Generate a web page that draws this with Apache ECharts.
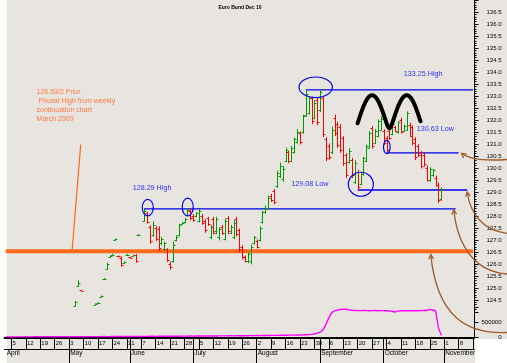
<!DOCTYPE html>
<html><head><meta charset="utf-8">
<script src="https://cdn.jsdelivr.net/npm/echarts@6/dist/echarts.min.js"></script>
<style>html,body{margin:0;padding:0;background:#fff}#c{width:507px;height:363px}</style>
</head><body><div id="c"></div>
<script>
// ---- categories: weekday trading days from 1 Apr 2010 ----
const days = [];
for (let d = new Date(Date.UTC(2010, 3, 1)); days.length < 163; d.setUTCDate(d.getUTCDate() + 1)) {
  const wd = d.getUTCDay();
  if (wd !== 0 && wd !== 6) days.push(d.toISOString().slice(0, 10));
}
const monthNames = ['January','February','March','April','May','June','July','August','September','October','November','December'];

// ---- OHLC bars: [trading-day index, open, high, low, close] ----
const ohlc = [
 [24,124.26,124.44,124.24,124.42],[25,125.08,125.29,125.07,125.22],[26,124.9,124.9,124.9,124.88],
 [31,124.3,124.33,124.3,124.32],[32,124.35,124.38,124.35,124.37],[33,124.62,124.66,124.62,124.65],
 [34,125.36,125.39,125.36,125.38],[35,125.8,126.03,125.78,125.98],[36,126.29,126.32,126.29,126.31],
 [37,126.37,126.4,126.37,126.39],[38,127.0,127.04,127.0,127.03],[39,126.33,126.33,126.3,126.31],
 [40,126.25,126.28,125.9,125.95],[41,126.03,126.07,126.03,126.06],[42,126.37,126.4,126.37,126.39],
 [43,126.28,126.28,126.25,126.26],[44,126.33,126.36,126.33,126.35],[45,126.37,126.39,126.07,126.12],
 [46,127.19,127.22,127.19,127.21],[48,127.8,128.29,127.78,128.2],[49,128.1,128.14,127.7,127.75],
 [50,127.55,127.59,126.85,126.95],[51,127.2,127.75,127.15,127.6],[52,127.5,127.55,126.97,127.05],
 [53,127.45,127.55,126.56,126.65],[54,126.85,127.11,126.8,127.05],[55,126.6,126.91,126.56,126.85],
 [56,126.6,126.63,126.1,126.15],[57,126.0,126.07,125.77,125.85],[58,126.1,126.91,126.07,126.8],
 [59,127.0,127.17,126.96,127.12],[60,127.2,127.65,127.17,127.6],[61,127.67,127.72,127.67,127.7],
 [62,127.74,127.89,127.72,127.85],[63,128.02,128.3,128.0,128.25],[64,128.22,128.27,127.83,127.9],
 [65,128.0,128.06,127.78,127.82],[66,127.98,128.13,127.97,128.1],[67,127.8,128.27,127.75,128.2],
 [68,128.0,128.06,127.65,127.7],[69,127.8,127.84,127.32,127.4],[70,127.9,127.94,127.6,127.65],
 [71,127.1,127.6,127.05,127.55],[72,127.85,127.94,127.26,127.3],[73,127.35,127.94,127.26,127.85],
 [74,127.1,127.5,127.0,127.45],[75,127.55,127.6,127.23,127.3],[76,127.05,127.87,127.0,127.8],
 [77,127.9,127.97,127.26,127.35],[78,127.3,127.6,127.27,127.55],[79,127.1,127.8,127.05,127.7],
 [80,127.85,127.94,127.17,127.25],[81,127.4,127.45,126.5,126.6],[82,126.7,126.76,126.21,126.3],
 [83,126.3,126.33,126.08,126.12],[84,126.1,126.47,126.06,126.4],[85,126.1,126.79,126.0,126.7],
 [86,126.88,127.15,126.83,127.1],[87,126.95,127.0,126.66,126.7],[88,127.0,127.55,126.95,127.5],
 [89,127.75,128.2,127.7,128.15],[90,128.15,128.41,128.12,128.35],[91,128.35,128.83,128.29,128.75],
 [92,128.85,128.9,128.6,128.65],[93,129.05,129.1,128.5,128.6],[94,129.25,129.86,129.2,129.8],
 [95,129.65,130.2,129.6,130.1],[96,129.55,130.05,129.45,129.95],[97,130.3,130.83,130.27,130.75],
 [98,130.65,130.69,130.21,130.3],[99,130.3,130.9,130.27,130.85],[100,130.65,131.24,130.62,131.2],
 [101,131.1,131.59,131.04,131.5],[102,131.45,131.5,131.0,131.1],[103,131.5,132.2,131.45,132.15],
 [104,132.2,133.25,132.15,133.1],[105,132.3,132.95,132.25,132.9],[106,132.9,132.95,131.85,131.95],
 [107,132.1,132.8,132.05,132.7],[108,132.85,132.9,131.8,131.9],[109,132.4,133.25,132.35,133.15],
 [110,132.9,132.95,131.3,131.4],[111,131.2,131.25,130.3,130.4],[112,130.9,131.0,130.35,130.45],
 [113,130.65,131.7,130.6,131.6],[114,132.1,132.2,131.35,131.45],[115,131.85,131.9,130.85,130.95],
 [116,131.7,131.8,130.65,130.75],[117,131.25,131.3,130.1,130.2],[118,130.55,130.6,129.6,129.7],
 [119,130.25,130.8,130.2,130.7],[120,130.35,130.4,129.6,129.7],[121,129.4,130.3,129.35,130.2],
 [122,129.85,129.9,129.08,129.2],[123,129.35,129.8,129.3,129.75],[124,129.75,130.45,129.7,130.4],
 [125,130.3,130.95,130.27,130.9],[126,130.85,131.52,130.83,131.45],[127,131.65,131.73,130.83,130.9],
 [128,131.05,131.6,131.03,131.55],[129,131.35,132.0,131.3,131.95],[130,131.6,132.13,131.58,132.05],
 [131,131.55,131.59,130.97,131.05],[132,131.25,131.31,130.63,130.75],[133,131.55,131.6,131.19,131.25],
 [134,131.4,131.93,131.38,131.85],[135,131.7,131.73,131.52,131.55],[136,131.5,131.93,131.45,131.9],
 [137,132.0,132.07,131.45,131.5],[138,131.55,131.79,131.52,131.75],[139,131.6,132.34,131.58,132.3],
 [140,131.8,131.86,131.31,131.35],[141,131.7,131.75,130.97,131.05],[142,131.2,131.26,130.35,130.45],
 [143,130.9,130.97,130.48,130.55],[144,130.65,130.69,130.0,130.1],[145,130.55,130.62,130.07,130.15],
 [146,130.0,130.07,129.45,129.5],[147,129.5,130.0,129.45,129.95],[148,129.7,129.93,129.65,129.9],
 [149,129.6,129.65,129.24,129.3],[150,129.3,129.37,128.55,128.65],[151,128.7,129.17,128.65,129.1]
];

// ---- lower panel (magenta) values, one per trading day from index 0 ----
const volume = [
 3000,2500,2000,4000,3500,5000,4000,6000,5500,4500,6000,7000,5000,6500,8000,7500,6000,7000,8500,9000,7000,8000,9500,10000,
 11000,9000,12000,10000,9500,11000,12500,13000,12000,14000,15000,13500,14000,16000,15000,17000,16500,15000,18000,17500,19000,18000,20000,21000,
 22000,20000,23000,24000,22000,25000,24000,26000,25000,27000,26000,28000,27000,29000,30000,28000,31000,30000,32000,31000,33000,34000,32000,35000,
 36000,35000,37000,38000,36000,39000,40000,38000,41000,42000,40000,43000,44000,45000,46000,48000,47000,50000,52000,51000,54000,55000,53000,57000,
 58000,60000,62000,61000,64000,66000,68000,70000,75000,80000,88000,100000,
 130000,160000,240000,420000,640000,810000,870000,895000,915000,930000,925000,905000,
 890000,885000,880000,878000,882000,880000,876000,879000,881000,877000,880000,878000,875000,870000,
 850000,835000,862000,873000,876000,874000,878000,877000,880000,876000,879000,881000,885000,920000,900000,875000,300000,60000
];

// ---- marked levels ----
const levelNames = ['133.25 High', '130.63 Low', '129.08 Low', '128.29 High', '126.53 prior pivot'];
const levelValues = [133.25, 130.63, 129.08, 128.29, 126.53];
const levelFrom = [104, 132, 122, 48, 0];
const levelTo = [162, 157, 160, 156, 162];
const pivotTrend = [[23, 126.53], [26, 130.97]];

const BLUE = '#0000ee', ORANGE = '#ff6a1a', BROWN = '#a05a2c';
const FONT = 'Liberation Sans, Arial, sans-serif';

const chart = echarts.init(document.getElementById('c'), null, {renderer: 'canvas'});
const isMonday = i => new Date(days[i] + 'T00:00:00Z').getUTCDay() === 1;
const isMonthStart = i => i > 0 && days[i].slice(5, 7) !== days[i - 1].slice(5, 7);

const GL = 4.26, GR = 32.5;
const levelSeries = levelValues.map((v, k) => ({
  type: 'line', name: levelNames[k], xAxisIndex: 0, yAxisIndex: 0, silent: true, symbol: 'none',
  data: [[levelFrom[k], v], [levelTo[k], v]],
  lineStyle: k === 4 ? {color: ORANGE, width: 4} : {color: BLUE, width: 1.3},
  z: k === 4 ? 1 : 3
}));

const option = {
  animation: false,
  backgroundColor: '#ffffff',
  textStyle: {fontFamily: FONT},
  grid: [
    {left: GL, right: GR, top: -2.75, height: 314.6},
    {left: GL, right: GR, top: 306, height: 31}
  ],
  xAxis: [
    {gridIndex: 0, type: 'category', data: days, show: false},
    {gridIndex: 1, type: 'category', data: days, position: 'top',
      axisLine: {show: true, lineStyle: {color: '#000', width: 1}}, axisTick: {show: false}, axisLabel: {show: false}},
    {gridIndex: 1, type: 'category', data: days, position: 'bottom', offset: 1.7,
      axisLine: {show: true, lineStyle: {color: '#000', width: 1}},
      axisTick: {show: true, alignWithLabel: true, length: 10.5, lineStyle: {color: '#000'},
        interval: (i) => (isMonday(i) || isMonthStart(i))},
      axisLabel: {show: true, interval: (i) => isMonday(i) && i <= 157, align: 'left', margin: 1.5,
        fontSize: 6, color: '#000', padding: [0, 0, 0, 1],
        formatter: (v) => String(Number(v.slice(8, 10)))}},
    {gridIndex: 1, type: 'category', data: days, position: 'bottom', offset: 12,
      axisLine: {show: true, lineStyle: {color: '#000', width: 1}},
      axisTick: {show: true, alignWithLabel: true, length: 14, lineStyle: {color: '#000'},
        interval: (i) => isMonthStart(i)},
      axisLabel: {show: true, interval: (i) => i === 0 || isMonthStart(i), align: 'left', margin: 1,
        fontSize: 6.5, color: '#000', padding: [0, 0, 0, 1],
        formatter: (v) => monthNames[Number(v.slice(5, 7)) - 1]}}
  ],
  yAxis: [
    {gridIndex: 0, type: 'value', position: 'right', min: 124, max: 137, interval: 0.5,
      axisLine: {show: true, lineStyle: {color: '#000'}},
      axisTick: {show: true, length: 4, lineStyle: {color: '#000'}},
      minorTick: {show: true, splitNumber: 5, length: 2, lineStyle: {color: '#000'}},
      splitLine: {show: false},
      axisLabel: {showMinLabel: false, showMaxLabel: false, fontSize: 6, color: '#000', align: 'right', margin: 27,
        formatter: (v) => v.toFixed(1)}},
    {gridIndex: 1, type: 'value', position: 'right', min: 0, max: 1033333, interval: 500000,
      axisLine: {show: true, lineStyle: {color: '#000'}},
      axisTick: {show: true, length: 4, lineStyle: {color: '#000'}},
      splitLine: {show: false},
      axisLabel: {fontSize: 6, color: '#000', align: 'right', margin: 27, showMaxLabel: false,
        formatter: (v) => (v === 0 || v === 500000) ? String(v) : ''}}
  ],
  series: [
    ...levelSeries,
    {type: 'line', name: 'pivot trend', xAxisIndex: 0, yAxisIndex: 0, silent: true, symbol: 'none',
      data: pivotTrend, lineStyle: {color: ORANGE, width: 1.2}},
    {type: 'custom', name: 'Euro Bund Dec 10', xAxisIndex: 0, yAxisIndex: 0, data: ohlc,
      encode: {x: 0, y: [1, 2, 3, 4]}, z: 4,
      renderItem: (params, api) => {
        const i = api.value(0), o = api.value(1), h = api.value(2), l = api.value(3), c = api.value(4);
        const ph = api.coord([i, h]), pl = api.coord([i, l]), po = api.coord([i, o]), pc = api.coord([i, c]);
        const col = c >= o ? '#009a00' : '#ff0000';
        const x = Math.round(ph[0]) + 0.5;
        const st = {stroke: col, lineWidth: 1};
        return {type: 'group', children: [
          {type: 'line', shape: {x1: x, y1: ph[1] - 0.5, x2: x, y2: pl[1] + 0.5}, style: st},
          {type: 'line', shape: {x1: x - 2, y1: Math.round(po[1]) + 0.5, x2: x, y2: Math.round(po[1]) + 0.5}, style: st},
          {type: 'line', shape: {x1: x, y1: Math.round(pc[1]) + 0.5, x2: x + 2, y2: Math.round(pc[1]) + 0.5}, style: st}
        ]};
      }},
    {type: 'line', name: 'volume', xAxisIndex: 2, yAxisIndex: 1, data: volume, symbol: 'none', silent: true,
      lineStyle: {color: '#ff00ff', width: 1.4}}
  ]
};
chart.setOption(option);

// ---- annotations anchored to data coordinates ----
function pt(d, p) {
  const d0 = Math.floor(d), f = d - d0;
  const a = chart.convertToPixel({gridIndex: 0}, [d0, p]);
  const b = chart.convertToPixel({gridIndex: 0}, [d0 + 1, p]);
  return [a[0] + f * (b[0] - a[0]), a[1]];
}
function txt(anchor, text, color, size, vAlign, lineHeight) {
  const p = pt(anchor[0], anchor[1]);
  const style = {text, fill: color, font: size + 'px ' + FONT, textAlign: 'left', textVerticalAlign: vAlign || 'middle'};
  if (lineHeight) style.lineHeight = lineHeight;
  return {type: 'text', x: p[0], y: p[1], z: 80, silent: true, style};
}
function ell(anchor, rx, ry) {
  const p = pt(anchor[0], anchor[1]);
  return {type: 'ellipse', z: 50, silent: true, shape: {cx: p[0], cy: p[1], rx, ry},
    style: {stroke: BLUE, fill: null, lineWidth: 1.2}};
}
function arrow(p0, c1, c2, p3) {
  const dx = p3[0] - c2[0], dy = p3[1] - c2[1], L = Math.hypot(dx, dy);
  const ux = dx / L, uy = dy / L, s = 5, a = 0.5, ca = Math.cos(a), sa = Math.sin(a);
  const h1 = [p3[0] - s * (ux * ca - uy * sa), p3[1] - s * (uy * ca + ux * sa)];
  const h2 = [p3[0] - s * (ux * ca + uy * sa), p3[1] - s * (uy * ca - ux * sa)];
  const st = {stroke: BROWN, fill: null, lineWidth: 1.3};
  return [
    {type: 'bezierCurve', z: 60, silent: true, shape: {x1: p0[0], y1: p0[1], cpx1: c1[0], cpy1: c1[1], cpx2: c2[0], cpy2: c2[1], x2: p3[0], y2: p3[1]}, style: st},
    {type: 'polyline', z: 60, silent: true, shape: {points: [h1, p3, h2]}, style: st}
  ];
}
const add = (p, dx, dy) => [p[0] + dx, p[1] + dy];

// M (double top) sketch: two arches meeting at a trough
const tr = pt(133, 131.65), pk = pt(139, 133.03);
const half = pk[0] - tr[0], amp = tr[1] - pk[1];
const mPts = [];
const k = 0.18, norm = Math.sqrt(1 + k * k) - k;
for (let x = tr[0] - 1.84 * half; x <= tr[0] + 1.8 * half + 0.01; x += 0.5) {
  const s = Math.abs(Math.sin(Math.PI * (x - tr[0]) / (2 * half)));
  const sr = (Math.sqrt(s * s + k * k) - k) / norm;
  mPts.push([x, tr[1] - amp * sr]);
}

const graphics = [
  {type: 'rect', z: -100, silent: true, shape: {x: 7, y: 0, width: 500, height: 339}, style: {fill: '#e8e4e0'}},
  {type: 'rect', z: -100, silent: true, shape: {x: 7, y: 339, width: 468, height: 24}, style: {fill: '#e8e4e0'}},
  {type: 'rect', z: 100, silent: true, shape: {x: 475, y: 339.5, width: 32, height: 24}, style: {fill: '#ffffff'}},
  {type: 'text', x: 240, y: 8, z: 80, silent: true,
    style: {text: 'Euro Bund Dec 10', fill: '#000', font: 'bold 5px ' + FONT, textAlign: 'center', textVerticalAlign: 'middle'}},
  {type: 'polyline', z: 55, silent: true, shape: {points: mPts},
    style: {stroke: '#000', fill: null, lineWidth: 4, lineCap: 'round', lineJoin: 'round'}},
  txt([138, 133.9], '133.25 High', '#3030ff', 7.2),
  txt([142.5, 131.62], '130.63 Low', '#3030ff', 7.2),
  txt([99, 129.31], '129.08 Low', '#3030ff', 7.2),
  txt([44, 129.17], '128.29 High', '#3030ff', 7.2),
  txt([10.7, 133.36], '126.53/2 Prior\n Pivotal High from weekly\ncontinuation chart\nMarch 2009', '#ff7a40', 7, 'top', 9.1),
  ell([49.25, 128.345], 5.5, 8.3),
  ell([63.1, 128.37], 5.5, 8.8),
  ell([107.45, 133.36], 16.7, 10.3),
  ell([123.1, 129.32], 12.5, 12),
  ell([132.1, 130.87], 3.3, 6.7),
  ...arrow([507, 159.5], [485, 161], [470, 160], add(pt(157, 130.63), 3, 0.5)),
  ...arrow([507, 233.3], [484, 231], [470, 214], add(pt(160, 129.08), 0, 2)),
  ...arrow([507, 274], [478, 272], [458, 250], add(pt(156, 128.29), -2, 1)),
  ...arrow([507, 332.5], [468, 334], [437, 318], add(pt(147, 126.53), 1, 3.5))
];
chart.setOption({graphic: graphics});
</script>
</body></html>
